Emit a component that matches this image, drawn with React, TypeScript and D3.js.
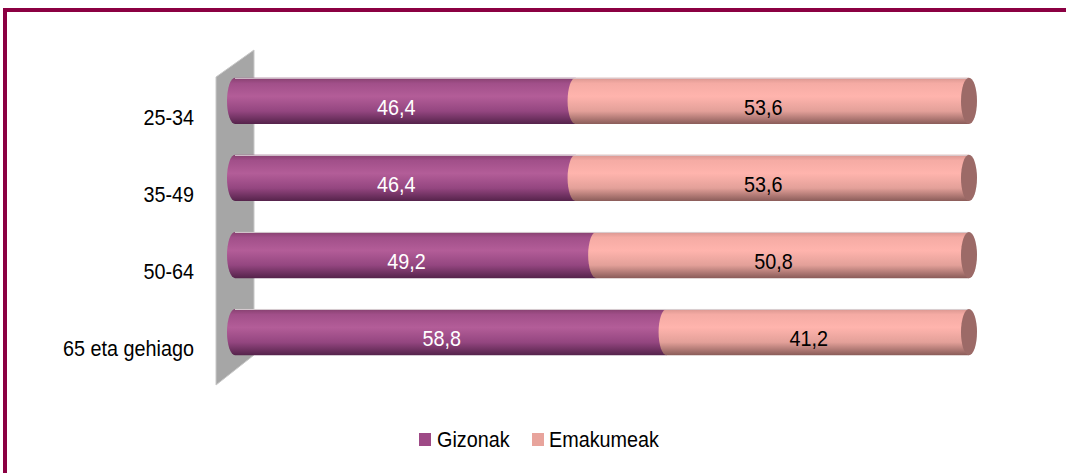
import React from "react";
import * as d3 from "d3";

// age groups, top to bottom
const categories = ["25-34", "35-49", "50-64", "65 eta gehiago"];
const gizonak = [46.4, 46.4, 49.2, 58.8];
const emakumeak = [53.6, 53.6, 50.8, 41.2];
const seriesNames = ["Gizonak", "Emakumeak"];

const W = 1066;
const H = 473;
const FONT = "'Liberation Sans', Arial, sans-serif";
const SX = 0.9; // the original font is a bit condensed

const fmt = (v: number) => v.toFixed(1).replace(".", ",");

// condensed text helper
const Label: React.FC<{ x: number; y: number; anchor?: string; fill?: string; children: React.ReactNode }> = ({
  x,
  y,
  anchor = "start",
  fill = "#000",
  children,
}) => (
  <g transform={`translate(${x},${y}) scale(${SX},1)`}>
    <text x={0} y={0} textAnchor={anchor as any} fontSize={22} fill={fill}>
      {children}
    </text>
  </g>
);

const App: React.FC = () => {
  const x = d3.scaleLinear().domain([0, 100]).range([235, 969]);
  const y = d3.scaleBand<string>().domain(categories).range([47, 386]).padding(0.4);
  const bw = y.bandwidth();
  const rx = 8;
  const ry = bw / 2;

  // segment body with rounded (cylinder) left end
  const segPath = (x0: number, x1: number, top: number) => {
    const p = d3.path();
    p.moveTo(x0, top);
    p.lineTo(x1, top);
    p.lineTo(x1, top + bw);
    p.lineTo(x0, top + bw);
    return p.toString() + ` A ${rx} ${ry} 0 0 1 ${x0} ${top} Z`;
  };

  const rows = categories.map((c, i) => ({
    cat: c,
    segs: [
      { name: seriesNames[0], from: 0, to: gizonak[i], v: gizonak[i] },
      { name: seriesNames[1], from: gizonak[i], to: gizonak[i] + emakumeak[i], v: emakumeak[i] },
    ],
  }));

  const [r0, r1] = y.range();

  return (
    <svg width={W} height={H} style={{ position: "absolute", left: 0, top: 0, fontFamily: FONT }}>
      <defs>
        <linearGradient id="gPurple" x1="0" y1="0" x2="0" y2="1">
          <stop offset="0" stopColor="#86406f" />
          <stop offset="0.12" stopColor="#a14f89" />
          <stop offset="0.4" stopColor="#b35d98" />
          <stop offset="0.72" stopColor="#944680" />
          <stop offset="1" stopColor="#55234b" />
        </linearGradient>
        <linearGradient id="gPink" x1="0" y1="0" x2="0" y2="1">
          <stop offset="0" stopColor="#d99690" />
          <stop offset="0.12" stopColor="#f5aba4" />
          <stop offset="0.4" stopColor="#ffb4ad" />
          <stop offset="0.72" stopColor="#e3a099" />
          <stop offset="1" stopColor="#8a5c59" />
        </linearGradient>
      </defs>
      <rect width={W} height={H} fill="#ffffff" />

      {/* frame */}
      <rect x={3} y={8} width={W - 3} height={4} fill="#8b0042" />
      <rect x={3} y={8} width={4} height={H - 8} fill="#8b0042" />

      {/* side wall */}
      <polygon
        points={`216,${r0 + 30} 254,${r0 + 3} 254,${r1 - 31} 216,${r1 - 1}`}
        fill="#a6a6a6"
        stroke="#c8c8c8"
        strokeWidth={1}
      />

      {rows.map((r) => {
        const top = y(r.cat)!;
        return (
          <g key={r.cat}>
            {r.segs.map((s, j) => (
              <path
                key={s.name}
                d={segPath(x(s.from), x(s.to), top)}
                fill={j === 0 ? "url(#gPurple)" : "url(#gPink)"}
              />
            ))}
            <line x1={x(0)} x2={x(100)} y1={top + 0.5} y2={top + 0.5} stroke="#d9d0d4" strokeWidth={1} />
            <ellipse cx={x(100)} cy={top + ry} rx={rx} ry={ry} fill="#9c6a67" />
            {r.segs.map((s, j) => (
              <Label
                key={s.name + "l"}
                x={(x(s.from) + x(s.to)) / 2 - 9}
                y={top + ry + 14}
                anchor="middle"
                fill={j === 0 ? "#ffffff" : "#000000"}
              >
                {fmt(s.v)}
              </Label>
            ))}
            <Label x={194} y={top + ry + 24} anchor="end">
              {r.cat}
            </Label>
          </g>
        );
      })}

      {/* legend */}
      <g>
        <rect x={419} y={433} width={12} height={13} fill="#9e4a86" />
        <Label x={437} y={447}>{seriesNames[0]}</Label>
        <rect x={532} y={433} width={12} height={13} fill="#e8a49c" />
        <Label x={549} y={447}>{seriesNames[1]}</Label>
      </g>
    </svg>
  );
};

export default App;
